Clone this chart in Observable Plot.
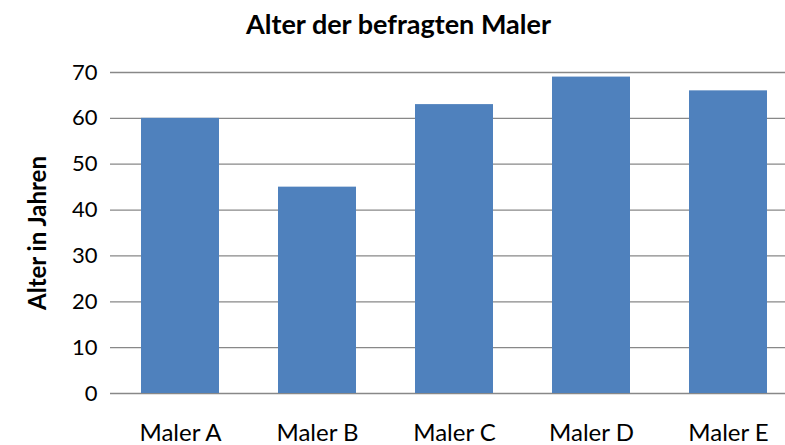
<!DOCTYPE html>
<html>
<head>
<meta charset="utf-8">
<script src="https://cdn.jsdelivr.net/npm/d3@7"></script>
<script src="https://cdn.jsdelivr.net/npm/@observablehq/plot@0.6"></script>
<style>
  body { margin: 0; background: #fff; font-family: Lato, "Open Sans", sans-serif; }
  #title { height: 48px; line-height: 48px; text-align: center; font-weight: bold; font-size: 27px; color: #000; width: 785px; padding-left: 12px; box-sizing: border-box; }
</style>
</head>
<body>
<div id="title">Alter der befragten Maler</div>
<div id="chart"></div>
<script>
const categories = ["Maler A", "Maler B", "Maler C", "Maler D", "Maler E"];
const ages = [60, 45, 63, 69, 66];
const yTicks = [0, 10, 20, 30, 40, 50, 60, 70];
const yLabel = "Alter in Jahren";

const data = categories.map((c, i) => ({maler: c, alter: ages[i]}));

const chart = Plot.plot({
  width: 785,
  height: 397,
  marginLeft: 110,
  marginRight: 0,
  marginTop: 24,
  marginBottom: 52,
  style: {fontFamily: "Lato, 'Open Sans', sans-serif", fontSize: "22px", color: "#000", background: "#fff"},
  x: {domain: categories, range: [110, 797.75], paddingInner: 0.43, paddingOuter: 0.215, label: null},
  y: {domain: [0, 70], label: null},
  marks: [
    Plot.ruleY(yTicks, {stroke: "#888", strokeWidth: 1.3}),
    Plot.barY(data, {x: "maler", y: "alter", fill: "#4F81BD"}),
    Plot.axisY(yTicks, {tickSize: 0, tickPadding: 13, label: null, fontSize: 22}),
    Plot.axisX({tickSize: 0, tickPadding: 30, label: null, fontSize: 24}),
    Plot.text([yLabel], {frameAnchor: "left", textAnchor: "middle", rotate: -90, dx: -72, fontWeight: "bold", fontSize: 24})
  ]
});
document.getElementById("chart").appendChild(chart);
</script>
</body>
</html>
